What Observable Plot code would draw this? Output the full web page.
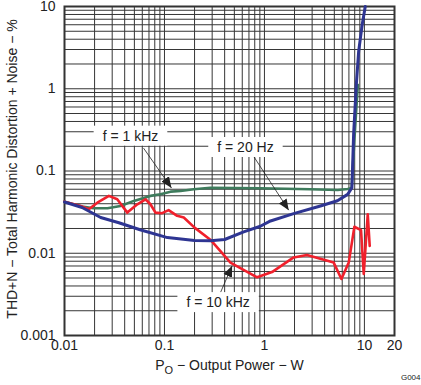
<!DOCTYPE html>
<html><head><meta charset="utf-8">
<script src="https://cdn.jsdelivr.net/npm/d3@7"></script>
<script src="https://cdn.jsdelivr.net/npm/@observablehq/plot@0.6"></script>
<style>body{margin:0;background:#fff;} svg{display:block}</style>
</head><body><div id="chart"></div>
<script>
// Axis ticks
const xTicks = [0.01, 0.1, 1, 10, 20];
const yTicks = [0.001, 0.01, 0.1, 1, 10];
const gridMultipliers = [1, 2, 3, 4, 5, 6, 7, 8, 9];
const xDecades = [0.01, 0.1, 1];
const yDecades = [0.001, 0.01, 0.1, 1];

// f = 20 Hz (blue)
const blueX = [0.01, 0.015, 0.023, 0.035, 0.057, 0.107, 0.2, 0.29, 0.4, 0.62, 0.91, 1.15, 1.96, 3.63, 5.37, 6.8, 7.5, 7.8, 8.3, 8.76, 9.5, 10.2];
const blueY = [0.042, 0.036, 0.0272, 0.0235, 0.0193, 0.0155, 0.0143, 0.0142, 0.0147, 0.0182, 0.0213, 0.0247, 0.0303, 0.0376, 0.0435, 0.052, 0.0626, 0.28, 1.12, 2.85, 6.0, 10];
// f = 1 kHz (green)
const greenX = [0.01, 0.0156, 0.0196, 0.0269, 0.0363, 0.0494, 0.0724, 0.091, 0.115, 0.145, 0.196, 0.288, 0.91, 2.88, 5.4, 6.8, 7.45, 8.0, 8.6];
const greenY = [0.0424, 0.0366, 0.0353, 0.0353, 0.0376, 0.0433, 0.0498, 0.0522, 0.0561, 0.0572, 0.0599, 0.0626, 0.0617, 0.0599, 0.0588, 0.0605, 0.062, 0.28, 1.12];
// f = 10 kHz (red)
const redX = [0.01, 0.0145, 0.0175, 0.0213, 0.0278, 0.0337, 0.0425, 0.0535, 0.0646, 0.0724, 0.0813, 0.0947, 0.11, 0.134, 0.156, 0.2, 0.288, 0.457, 0.845, 1.19, 1.96, 2.66, 4.93, 5.89, 6.97, 7.94, 9.25, 9.85, 10.8, 11.3];
const redY = [0.0424, 0.0376, 0.0343, 0.0412, 0.0498, 0.0453, 0.0312, 0.0394, 0.0453, 0.0394, 0.0312, 0.0307, 0.0334, 0.0285, 0.0272, 0.0205, 0.0146, 0.0077, 0.0051, 0.0059, 0.0089, 0.0095, 0.0077, 0.00487, 0.0077, 0.021, 0.0191, 0.0056, 0.0298, 0.0123];

// Annotations
const labelText = ["f = 1 kHz", "f = 20 Hz", "f = 10 kHz"];
const labelX = [0.0457, 0.646, 0.344];
const labelY = [0.265, 0.193, 0.00251];
const arrowX1 = [0.0617, 0.776, 0.363];
const arrowY1 = [0.19, 0.152, 0.00332];
const arrowX2 = [0.1175, 1.75, 0.475];
const arrowY2 = [0.0622, 0.0334, 0.00705];

const yTitle = "THD+N \u2212 Total Harmonic Distortion + Noise \u2212 %";
const xTitle = "PO \u2212 Output Power \u2212 W";
const code = "G004";

const xGrid = [...xDecades.flatMap(d => gridMultipliers.map(m => +(d * m).toPrecision(3))), 10];
const yGrid = [...yDecades.flatMap(d => gridMultipliers.map(m => +(d * m).toPrecision(3))), 10];

const toPts = (xs, ys) => xs.map((x, i) => ({x, y: ys[i]}));
const labels = labelText.map((t, i) => ({t, x: labelX[i], y: labelY[i]}));
const arrows = arrowX1.map((x1, i) => ({x1, y1: arrowY1[i], x2: arrowX2[i], y2: arrowY2[i]}));

const filledArrow = (color) => {
  const m = d3.create("svg:marker")
    .attr("viewBox", "0 -5 10 10").attr("refX", 10).attr("refY", 0)
    .attr("markerWidth", 11).attr("markerHeight", 11)
    .attr("markerUnits", "userSpaceOnUse").attr("orient", "auto")
    .attr("fill", "#222").attr("stroke", "none");
  m.append("path").attr("d", "M0,-4.2L10,0L0,4.2Z");
  return m.node();
};

const font = "'Liberation Sans', Arial, Helvetica, sans-serif";
const chart = Plot.plot({
  width: 421, height: 385,
  marginLeft: 64, marginRight: 27, marginTop: 6, marginBottom: 50,
  style: {fontFamily: font, fontSize: "14px", color: "#222", background: "#fff", overflow: "visible"},
  x: {type: "log", domain: [0.01, 20], axis: null},
  y: {type: "log", domain: [0.001, 10], axis: null},
  marks: [
    Plot.ruleX(xGrid, {stroke: "#363636", strokeWidth: 1}),
    Plot.ruleY(yGrid, {stroke: "#363636", strokeWidth: 1}),
    Plot.frame({stroke: "#333", strokeWidth: 2}),
    Plot.text(xTicks, {x: d => d, text: d => String(d), frameAnchor: "bottom", dy: 14, fontSize: 14, fill: "#222"}),
    Plot.text(yTicks, {y: d => d, text: d => String(d), frameAnchor: "left", dx: -9, textAnchor: "end", fontSize: 14, fill: "#222"}),
    Plot.line(toPts(greenX, greenY), {x: "x", y: "y", stroke: "#3e7b5c", strokeWidth: 2.6}),
    Plot.line(toPts(redX, redY), {x: "x", y: "y", stroke: "#f0202c", strokeWidth: 2.6}),
    Plot.line(toPts(blueX, blueY), {x: "x", y: "y", stroke: "#2e3592", strokeWidth: 3}),
    Plot.link(arrows, {x1: "x1", y1: "y1", x2: "x2", y2: "y2", stroke: "#222", strokeWidth: 0.8, markerEnd: filledArrow}),
    Plot.text(labels, {x: "x", y: "y", text: "t", fill: "#222", fontSize: 14, className: "anno"}),
    Plot.text([yTitle], {text: d => d, frameAnchor: "left", textAnchor: "middle", dx: -52, dy: -2, rotate: -90, fontSize: 14, fill: "#222"}),
    Plot.text([xTitle], {text: d => d, frameAnchor: "bottom", dy: 34, fontSize: 14, fill: "#222", className: "xtitle"}),
    Plot.text([code], {text: d => d, frameAnchor: "bottom-right", dx: 26, dy: 44, textAnchor: "end", fontSize: 8, fill: "#222"})
  ]
});
document.getElementById("chart").appendChild(chart);

// white boxes behind annotation labels
d3.select(chart).selectAll("g.anno text").each(function() {
  const b = this.getBBox();
  const cy = b.y + b.height / 2;
  d3.select(this.parentNode).insert("rect", "text")
    .attr("transform", this.getAttribute("transform"))
    .attr("x", b.x - 9).attr("y", cy - 10)
    .attr("width", b.width + 18).attr("height", 20)
    .attr("fill", "#fff");
});
// subscript in x title
d3.select(chart).selectAll("g.xtitle text").each(function() {
  const t = d3.select(this);
  t.text("");
  t.append("tspan").text("P");
  t.append("tspan").attr("font-size", 11).attr("dy", 4).text("O");
  t.append("tspan").attr("dy", -4).text(" \u2212 Output Power \u2212 W");
});
</script>
</body></html>
